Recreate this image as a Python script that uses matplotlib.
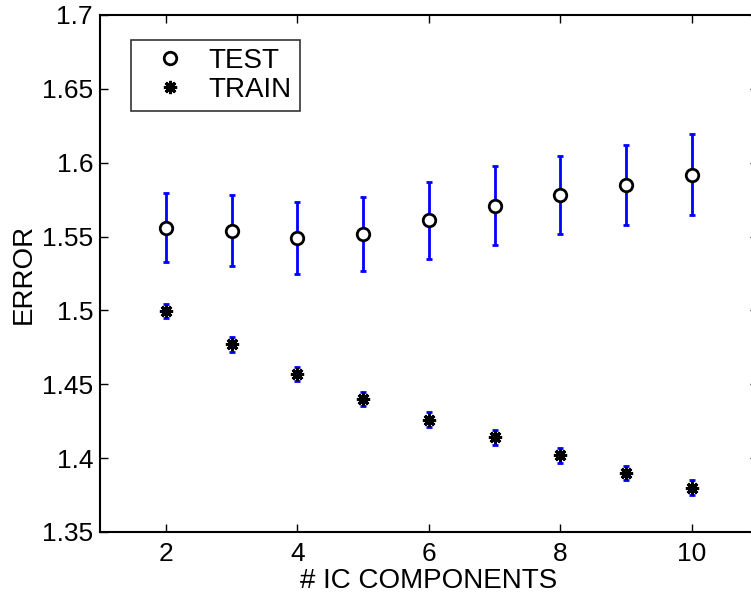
import matplotlib
matplotlib.use("Agg")
import matplotlib.pyplot as plt

plt.rcParams["font.family"] = ["Liberation Sans", "DejaVu Sans"]

components = [2, 3, 4, 5, 6, 7, 8, 9, 10]
test_err = [1.556, 1.554, 1.549, 1.552, 1.561, 1.571, 1.578, 1.585, 1.592]
test_std = [0.0235, 0.024, 0.0245, 0.025, 0.026, 0.027, 0.0265, 0.027, 0.0275]
train_err = [1.4996, 1.477, 1.457, 1.440, 1.426, 1.414, 1.402, 1.390, 1.380]
train_std = [0.005, 0.005, 0.005, 0.005, 0.005, 0.005, 0.005, 0.005, 0.005]

fig = plt.figure(figsize=(7.51, 5.97), dpi=100)
ax = fig.add_axes([0.1332, 0.1089, 0.8755, 0.866])

# error bars in blue, markers drawn on top
ax.errorbar(components, test_err, yerr=test_std, fmt="none", ecolor="blue",
            elinewidth=2, capsize=2.5, capthick=2)
ax.errorbar(components, train_err, yerr=train_std, fmt="none", ecolor="blue",
            elinewidth=2, capsize=2.5, capthick=2)
ax.plot(components, test_err, "o", color="black", mfc="white", ms=9, mew=2,
        linestyle="none", label="TEST")
ax.plot(components, train_err, marker=(8, 2, 0), color="black", ms=9.5, mew=2.2,
        linestyle="none", label="TRAIN")

ax.set_xlim(1, 11)
ax.set_ylim(1.35, 1.7)
ax.set_xticks([2, 4, 6, 8, 10])
ax.set_yticks([1.35, 1.4, 1.45, 1.5, 1.55, 1.6, 1.65, 1.7])
ax.set_yticklabels(["1.35", "1.4", "1.45", "1.5", "1.55", "1.6", "1.65", "1.7"])
ax.tick_params(direction="in", length=6, width=1, labelsize=19, top=True,
               right=True)
ax.tick_params(axis="x", pad=7)
ax.tick_params(axis="y", pad=5)
for s in ax.spines.values():
    s.set_linewidth(1.5)

ax.set_xlabel("# IC COMPONENTS", fontsize=20, labelpad=2)
ax.set_ylabel("ERROR", fontsize=20, labelpad=4)

leg = ax.legend(loc="upper left", bbox_to_anchor=(0.047, 0.952), fontsize=20,
                frameon=True, fancybox=False, edgecolor="black",
                handletextpad=0.3, borderpad=0.3, labelspacing=0.1,
                handlelength=2.2, borderaxespad=0)
leg.get_frame().set_linewidth(1.2)

plt.savefig("out.png", dpi=100)
